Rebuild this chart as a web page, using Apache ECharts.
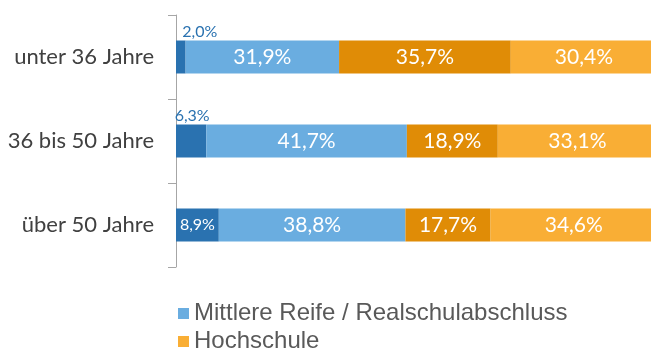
<!DOCTYPE html>
<html>
<head>
<meta charset="utf-8">
<script src="https://cdn.jsdelivr.net/npm/echarts@6/dist/echarts.min.js"></script>
<style>
  html, body { margin: 0; padding: 0; background: #fff; }
  #chart { width: 651px; height: 351px; }
</style>
</head>
<body>
<div id="chart"></div>
<script>
// Age groups and the share of each school-leaving qualification (percent)
const ageGroups = ['unter 36 Jahre', '36 bis 50 Jahre', 'über 50 Jahre'];
const hauptschule = [2.0, 6.3, 8.9];
const mittlereReife = [31.9, 41.7, 38.8];
const abitur = [35.7, 18.9, 17.7];
const hochschule = [30.4, 33.1, 34.6];

const seriesNames = ['Hauptschulabschluss', 'Mittlere Reife / Realschulabschluss', 'Abitur', 'Hochschule'];
const legendNames = ['Mittlere Reife / Realschulabschluss', 'Hochschule'];
const colors = ['#2A72B0', '#6AADE0', '#E08C06', '#F9AE35'];

const fmt = v => v.toFixed(1).replace('.', ',') + '%';
const labelFont = 'Lato, "Open Sans", sans-serif';

const bigLabel = {
  show: true, position: 'inside', color: '#fff',
  fontFamily: labelFont, fontSize: 21,
  formatter: p => fmt(p.value)
};

// First segment: narrow bars carry their label above the bar
const firstData = hauptschule.map((v, i) => {
  if (i === 2) {
    return { value: v, label: { show: true, position: 'inside', color: '#fff', fontFamily: labelFont, fontSize: 16, formatter: p => fmt(p.value) } };
  }
  return {
    value: v,
    label: {
      show: true, position: 'top', distance: 1,
      offset: i === 0 ? [19, 0] : [1, 0],
      color: '#2A72B0', fontFamily: labelFont, fontSize: 16,
      formatter: p => fmt(p.value)
    }
  };
});

const legendText = { fontFamily: '"Liberation Sans", Arial, sans-serif', fontSize: 24, color: '#595959' };
const legendBase = { icon: 'rect', itemWidth: 11, itemHeight: 11, itemGap: 6, left: 173, textStyle: legendText };

const chart = echarts.init(document.getElementById('chart'), null, { renderer: 'canvas' });
chart.setOption({
  animation: false,
  color: colors,
  grid: { left: 176, top: 15, height: 252, width: 481, containLabel: false, outerBoundsMode: 'none' },
  legend: [
    Object.assign({}, legendBase, { data: [legendNames[0]], top: 296.5 }),
    Object.assign({}, legendBase, { data: [legendNames[1]], top: 324.5 })
  ],
  xAxis: {
    type: 'value', min: 0, max: 100,
    show: false
  },
  yAxis: {
    type: 'category', data: ageGroups, inverse: true,
    axisLine: { show: true, lineStyle: { color: '#A6A6A6', width: 1 } },
    axisTick: { show: true, length: 8, lineStyle: { color: '#A6A6A6' } },
    axisLabel: { margin: 22, color: '#404040', fontFamily: labelFont, fontSize: 22 }
  },
  series: [
    { name: seriesNames[0], type: 'bar', stack: 'a', barWidth: 33, data: firstData },
    { name: seriesNames[1], type: 'bar', stack: 'a', barWidth: 33, data: mittlereReife, label: bigLabel },
    { name: seriesNames[2], type: 'bar', stack: 'a', barWidth: 33, data: abitur, label: bigLabel },
    { name: seriesNames[3], type: 'bar', stack: 'a', barWidth: 33, data: hochschule, label: bigLabel }
  ]
});
</script>
</body>
</html>
